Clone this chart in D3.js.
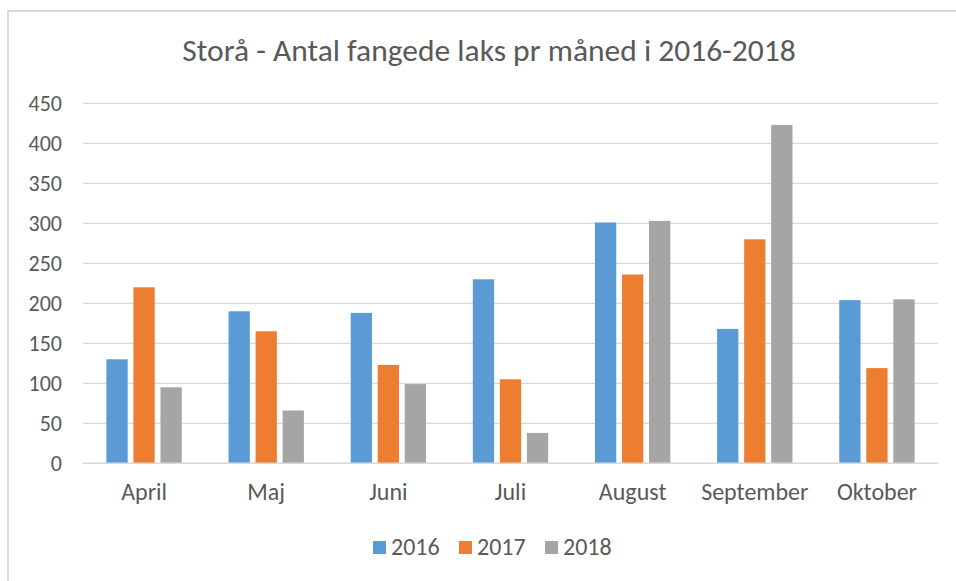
<!DOCTYPE html>
<html>
<head>
<meta charset="utf-8">
<script src="https://cdn.jsdelivr.net/npm/d3@7"></script>
<style>
  body { margin: 0; background: #fff; }
  text { font-family: Carlito, Calibri, Lato, "Open Sans", sans-serif; fill: #595959; }
</style>
</head>
<body>
<script>
var width = 956;
var height = 581;

// data
var months = ["April", "Maj", "Juni", "Juli", "August", "September", "Oktober"];
var years = ["2016", "2017", "2018"];
var v2016 = [130, 190, 188, 230, 301, 168, 204];
var v2017 = [220, 165, 123, 105, 236, 280, 119];
var v2018 = [95, 66, 99, 38, 303, 423, 205];
var yTicks = [0, 50, 100, 150, 200, 250, 300, 350, 400, 450];
var colors = ["#5B9BD5", "#ED7D31", "#A5A5A5"];

var series = [v2016, v2017, v2018];
var rows = months.map(function (m, i) {
  return { month: m, values: years.map(function (y, j) { return { year: y, value: series[j][i] }; }) };
});

var svg = d3.select('body').append('svg').attr('width', width).attr('height', height);

// chart frame (only top and left edges visible in the crop)
svg.append("path")
  .attr("d", "M8,581 L8,11 L956,11")
  .attr("fill", "none")
  .attr("stroke", "#D9D9D9")
  .attr("stroke-width", 2);

svg.append("text")
  .attr("x", 489).attr("y", 61)
  .attr("text-anchor", "middle")
  .style("font-size", "31.5px")
  .text("Storå - Antal fangede laks pr måned i 2016-2018");

var plotLeft = 83, plotRight = 938, plotTop = 103.3, plotBottom = 463.3;

var y = d3.scaleLinear().domain([0, 450]).range([plotBottom, plotTop]);
var x0 = d3.scaleBand().domain(months).range([plotLeft, plotRight]).paddingInner(0.383).paddingOuter(0.1915);
var x1 = d3.scaleBand().domain(years).range([0, x0.bandwidth()]).paddingInner(0.2126).paddingOuter(0);

// gridlines
svg.append("g")
  .selectAll("line")
  .data(yTicks)
  .enter().append("line")
  .attr("x1", plotLeft).attr("x2", plotRight)
  .attr("y1", function (d) { return y(d); })
  .attr("y2", function (d) { return y(d); })
  .attr("stroke", "#D9D9D9")
  .attr("stroke-width", 1.3);

// y axis labels
var yAxis = d3.axisLeft(y).tickValues(yTicks).tickSize(0).tickPadding(0);
var gy = svg.append("g").attr("transform", "translate(62,0)").call(yAxis);
gy.select(".domain").remove();
gy.selectAll("text").style("font-size", "22px").attr("fill", "#595959").attr("font-family", null);

// bars
var groups = svg.append("g")
  .selectAll("g")
  .data(rows)
  .enter().append("g")
  .attr("transform", function (d) { return "translate(" + x0(d.month) + ",0)"; });

groups.selectAll("rect")
  .data(function (d) { return d.values; })
  .enter().append("rect")
  .attr("x", function (d) { return x1(d.year); })
  .attr("y", function (d) { return y(d.value); })
  .attr("width", x1.bandwidth())
  .attr("height", function (d) { return plotBottom - y(d.value); })
  .attr("fill", function (d, i) { return colors[i]; });

// baseline
svg.append("line")
  .attr("x1", plotLeft).attr("x2", plotRight)
  .attr("y1", plotBottom).attr("y2", plotBottom)
  .attr("stroke", "#D9D9D9").attr("stroke-width", 1.5);

// x axis labels
var xAxis = d3.axisBottom(x0).tickSize(0).tickPadding(0);
var gx = svg.append("g").attr("transform", "translate(0,483)").call(xAxis);
gx.select(".domain").remove();
gx.selectAll("text").style("font-size", "24px").attr("fill", "#595959").attr("font-family", null);

// legend
var legendX = [373, 459, 545];
var legend = svg.append("g")
  .selectAll("g")
  .data(years)
  .enter().append("g")
  .attr("transform", function (d, i) { return "translate(" + legendX[i] + ",541)"; });
legend.append("rect")
  .attr("width", 13).attr("height", 13)
  .attr("fill", function (d, i) { return colors[i]; });
legend.append("text")
  .attr("x", 18).attr("y", 14)
  .style("font-size", "24px")
  .text(function (d) { return d; });
</script>
</body>
</html>
